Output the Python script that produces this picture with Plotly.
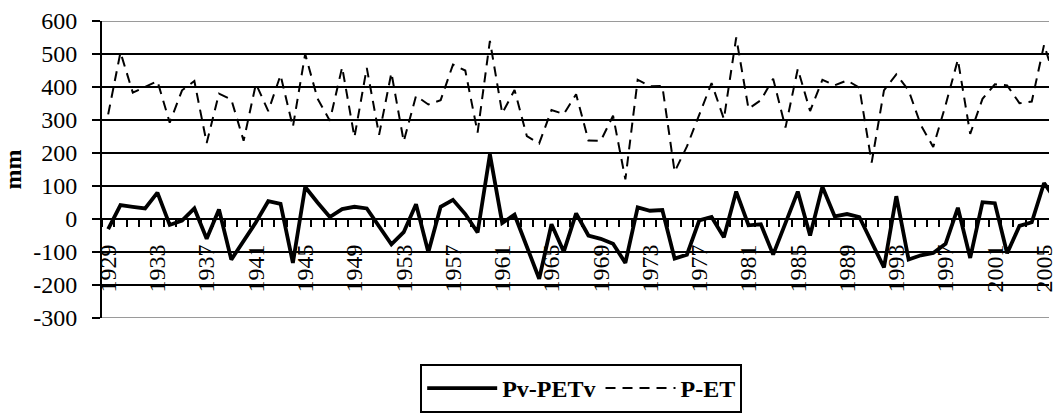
import plotly.graph_objects as go

years = list(range(1929, 2007))

pv_petv = [-31, 42, 37, 32, 80, -18, -5, 32, -60, 29,
           -123, -65, -10, 54, 46, -133, 97, 50, 6, 30,
           37, 32, -21, -77, -40, 45, -101, 37, 58, 15,
           -41, 196, -12, 13, -84, -181, -16, -99, 17, -50,
           -60, -75, -133, 35, 25, 27, -120, -108, -4, 6,
           -55, 83, -19, -16, -108, -13, 83, -50, 98, 8,
           15, 6, -70, -147, 69, -123, -110, -103, -75, 34,
           -118, 51, 48, -104, -21, -10, 109, 55]

p_et = [317, 505, 383, 400, 418, 292, 390, 418, 230, 380,
        362, 237, 410, 327, 436, 279, 500, 365, 298, 460,
        248, 458, 255, 443, 235, 373, 347, 360, 468, 450,
        262, 540, 320, 391, 251, 229, 330, 318, 378, 238,
        237, 313, 120, 422, 402, 403, 143, 220, 318, 412,
        303, 550, 334, 360, 425, 277, 455, 327, 422, 405,
        420, 398, 171, 390, 438, 390, 284, 218, 345, 483,
        258, 364, 408, 405, 351, 356, 528, 410]

label_years = list(range(1929, 2006, 4))
y_ticks = list(range(-300, 601, 100))

FONT = "Liberation Serif"
TF = dict(family=FONT, size=24, color="black")

fig = go.Figure()
fig.add_trace(go.Scatter(x=years, y=pv_petv, mode="lines", name="<b>Pv-PETv</b>",
                         line=dict(color="black", width=3.8)))
fig.add_trace(go.Scatter(x=years, y=p_et, mode="lines", name="<b>P-ET</b>",
                         line=dict(color="black", width=2, dash="10px,7px")))

fig.update_layout(
    width=1057, height=413,
    margin=dict(l=101, r=0, t=21, b=82),
    paper_bgcolor="white", plot_bgcolor="white",
    font=TF,
    showlegend=True,
    legend=dict(orientation="h", x=0.506, xanchor="center", y=-0.155, yanchor="top",
                bordercolor="black", borderwidth=2, font=TF,
                itemwidth=70, tracegroupgap=0),
    xaxis=dict(range=[1928.5, 2005.4], anchor="free", position=1/3,
               showline=True, linecolor="black", linewidth=2,
               showgrid=False, zeroline=False,
               tickmode="array", tickvals=label_years, ticktext=[str(v) for v in label_years],
               tickangle=-90, ticks="outside", ticklen=7, tickwidth=2,
               tickcolor="rgba(0,0,0,0)", ticklabelstandoff=8,
               ticklabeloverflow="allow",
               tickfont=TF,
               minor=dict(ticks="outside", tick0=1928.5, dtick=1, ticklen=7,
                          tickwidth=2, tickcolor="black", showgrid=False)),
    yaxis=dict(range=[-300, 600], tickmode="array", tickvals=y_ticks,
               ticktext=[str(v) for v in y_ticks],
               showline=True, linecolor="black", linewidth=2,
               showgrid=True, gridcolor="black", gridwidth=2, zeroline=False,
               ticks="outside", ticklen=8, tickwidth=2, tickcolor="black",
               ticklabelstandoff=10, tickfont=TF,
               title=dict(text="<b>mm</b>", font=TF, standoff=16)),
)

for yv in (600, -300):
    fig.add_shape(type="line", xref="paper", x0=0, x1=1, yref="y", y0=yv, y1=yv,
                  line=dict(color="#9a9a9a", width=2), layer="above")

fig.write_html("out.html")
